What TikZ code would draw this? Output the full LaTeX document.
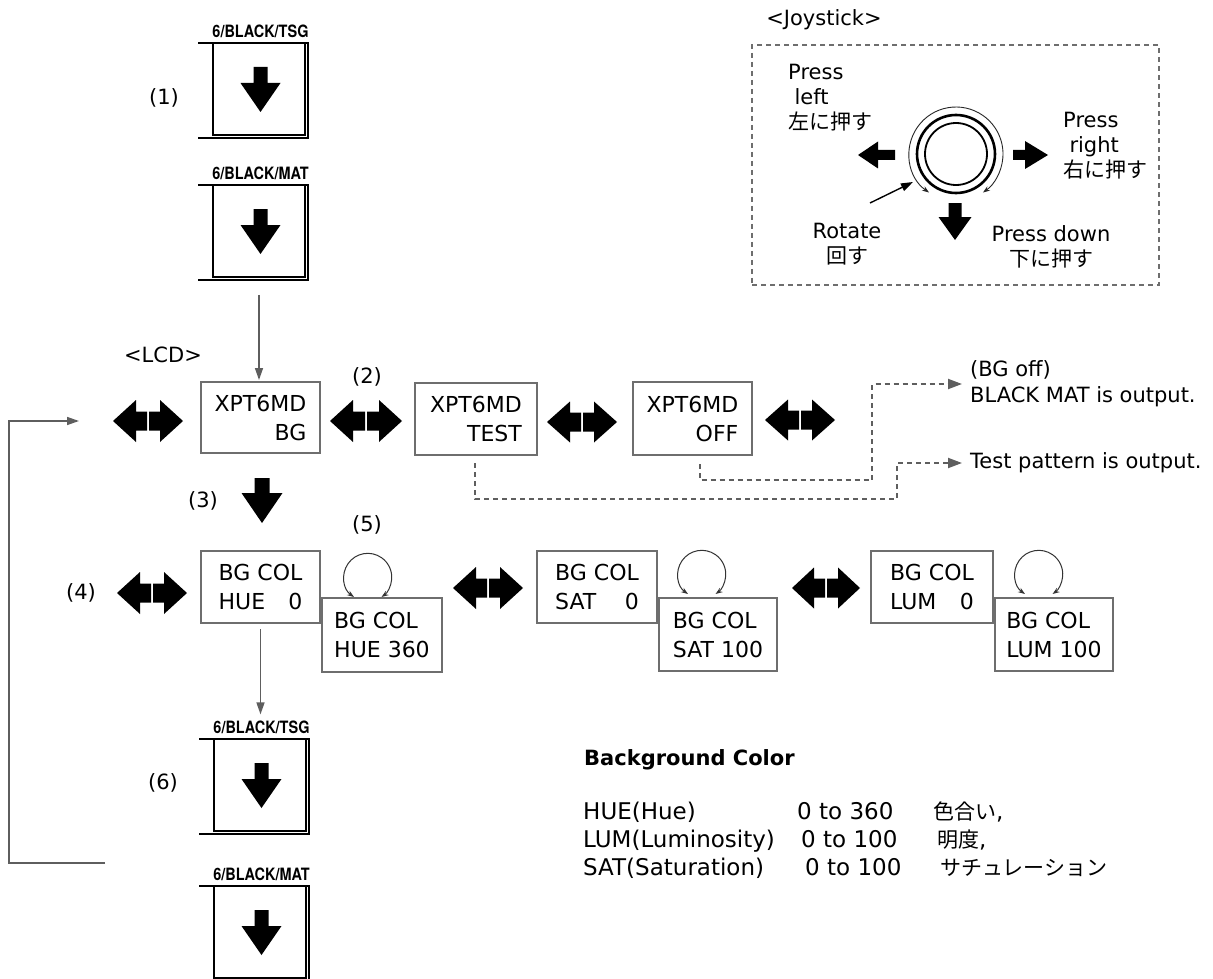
\documentclass[tikz,border=0pt]{standalone}
\usepackage{fontspec}
\setmainfont{DejaVu Sans}
\newfontfamily\jp{Noto Sans CJK JP}
\newfontfamily\condfont[FakeStretch=0.85]{TeX Gyre Heros}
\usetikzlibrary{arrows.meta,calc}
\definecolor{boxgray}{HTML}{6E6E6E}
\definecolor{linegray}{HTML}{5E5E5E}
\newcommand\fs[2]{\fontsize{#1}{#2}\selectfont}
\newlength\colw
\newcommand\spread[2]{\settowidth{\colw}{BG COL}\makebox[\colw][l]{#1\hfill #2}}
% x, y, angle, shaft width, shaft length, head width, head length
\newcommand\BigArrow[7]{%
  \begin{scope}[shift={(#1,#2)},rotate=#3]
    \fill[black] (0,{-#4/2}) -- (#5,{-#4/2}) -- (#5,{-#6/2}) -- ({#5+#7},0)
      -- (#5,{#6/2}) -- (#5,{#4/2}) -- (0,{#4/2}) -- cycle;
  \end{scope}}
% cx, cy, shaft length, head length, head width
\newcommand\Dbl[5]{%
  \BigArrow{#1-1}{#2}{180}{19}{#3}{#5}{#4}%
  \BigArrow{#1+1}{#2}{0}{19}{#3}{#5}{#4}}
% name, cx, top, label
\newcommand\Btn[4]{%
  \node[btnbox] (#1) at ({#2-1.5},{#3+46}) {};
  \node[btnlabel] (#1t) at (#2,{#3-12}) {#4};
  \draw[line width=1.6pt] ({#2-62.5},#3) -- ({#2+47.5},#3) -- ({#2+47.5},{#3+95}) -- ({#2-62.5},{#3+95});
  \BigArrow{#2}{#3+24}{-90}{14}{16}{40}{29}}
\tikzset{
  lcd/.style={draw=boxgray, line width=2pt, inner sep=0pt, fill=white, font=\fs{22}{29}},
  btnbox/.style={draw, line width=1.6pt, inner sep=0pt, minimum width=92pt, minimum height=92pt},
  btnlabel/.style={inner sep=0pt, font=\condfont\bfseries\fs{17}{17}},
  lbl/.style={inner sep=0pt, font=\fs{21}{25}},
  gcon/.style={draw=linegray, line width=1.5pt, -{Triangle[length=12pt,width=8pt]}},
  dcon/.style={draw=linegray, line width=2pt, dash pattern=on 5pt off 4pt, -{Triangle[length=14pt,width=10pt]}},
  loopar/.style={draw=black!80, line width=1pt, {Stealth[length=7pt,width=5pt]}-{Stealth[length=7pt,width=5pt]}},
}
\begin{document}
\begin{tikzpicture}[x=1pt,y=-1pt]
\useasboundingbox (0,0) rectangle (1213,979);
\fill[white] (0,0) rectangle (1213,979);

% ---------- buttons ----------
\Btn{b1}{260.5}{43}{6/BLACK/TSG}
\Btn{b2}{260.5}{185}{6/BLACK/MAT}
\Btn{b3}{261.5}{739}{6/BLACK/TSG}
\Btn{b4}{261.5}{886}{6/BLACK/MAT}
\node[lbl] (n1) at (164,98) {(1)};
\node[lbl] (n6) at (163,783) {(6)};

% ---------- joystick ----------
\node[lbl] (joyt) at (824,20) {<Joystick>};
\node[draw=boxgray, line width=2pt, dash pattern=on 5pt off 4pt, minimum width=407pt, minimum height=240pt, inner sep=0pt] (joy) at (955.5,165) {};
\node[circle, draw, line width=1.8pt, minimum size=62pt, inner sep=0pt] (knob) at (956,154) {};
\draw[line width=2.6pt] (knob.center) circle[radius=39];
\draw[line width=0.9pt, draw=black!85, {Stealth[length=7pt,width=5pt]}-{Stealth[length=7pt,width=5pt]}]
  ($(knob.center)+(125:47)$) arc[start angle=125, end angle=415, radius=47];
\coordinate (rotfrom) at (870,203);
\coordinate (rotto) at (913,182);
\draw[line width=1.4pt, -{Triangle[length=12pt,width=8pt]}] (rotfrom) -- (rotto);
\BigArrow{895}{155}{180}{10}{17}{27}{20}
\BigArrow{1013}{155}{0}{10}{12}{28}{23}
\BigArrow{955}{203}{-90}{13}{14}{33}{23}
\node[lbl, align=left, anchor=west] (jleft) at (788,98) {Press\\\hspace*{0.3em}left\\{\jp 左に押す}};
\node[lbl, align=left, anchor=west] (jright) at (1063,146) {Press\\\hspace*{0.3em}right\\{\jp 右に押す}};
\node[lbl, align=center] (jrot) at (847,244) {Rotate\\{\jp 回す}};
\node[lbl, align=center] (jdown) at (1051,247) {Press down\\{\jp 下に押す}};

% ---------- LCD row ----------
\node[lbl] (lcdt) at (163,355) {<LCD>};
\node[lcd, minimum width=119pt, minimum height=71pt, align=right] (bg) at (260.5,417.5) {XPT6MD\\BG};
\node[lcd, minimum width=122pt, minimum height=72pt, align=right] (test) at (476,419) {XPT6MD\\TEST};
\node[lcd, minimum width=119pt, minimum height=73pt, align=right] (off) at (692.5,418.5) {XPT6MD\\OFF};
\Dbl{148}{421}{11}{23}{42}
\Dbl{366}{421}{12}{23}{42}
\Dbl{582}{422}{11}{23}{41}
\Dbl{800}{420}{11}{23}{41}
\node[lbl] (n2) at (367,377) {(2)};
\draw[gcon, shorten <=17pt, shorten >=1pt] (b2.south) -- (b2.south |- bg.north);

% dashed outputs
\node[lbl, anchor=west, align=left, font=\fs{21}{26}] (offtxt) at (970,384) {(BG off)\\BLACK MAT is output.};
\node[lbl, anchor=west, font=\fs{21}{21}] (testtxt) at (970,463) {Test pattern is output.};
\draw[dcon, shorten >=8pt] ($(off.south)+(7,8)$) |- (872,480) |- (offtxt.west);
\draw[dcon, shorten >=8pt] ($(test.south)+(-1,7)$) |- (897,499) |- (testtxt.west);

% ---------- (3) ----------
\node[lbl] (n3) at (203,501) {(3)};
\BigArrow{262}{478}{-90}{15}{15}{41}{30}

% ---------- BG COL row ----------
\node[lbl] (n4) at (81,593) {(4)};
\node[lbl] (n5) at (367,525) {(5)};
\Dbl{152}{593}{11}{23}{42}
\Dbl{488}{588}{11}{23}{42}
\Dbl{826}{588}{11}{22}{41}
\node[lcd, minimum width=119pt, minimum height=72pt, align=left] (hue0) at (260.5,587) {BG COL\\\spread{HUE}{0}};
\node[lcd, minimum width=120pt, minimum height=74pt, align=left] (hue360) at (382,635) {BG COL\\HUE 360};
\node[lcd, minimum width=120pt, minimum height=72pt, align=left] (sat0) at (597,587) {BG COL\\\spread{SAT}{0}};
\node[lcd, minimum width=118pt, minimum height=73pt, align=left] (sat100) at (718,634.5) {BG COL\\SAT 100};
\node[lcd, minimum width=122pt, minimum height=72pt, align=left] (lum0) at (932,587) {BG COL\\\spread{LUM}{0}};
\node[lcd, minimum width=118pt, minimum height=73pt, align=left] (lum100) at (1054,634.5) {BG COL\\LUM 100};
\draw[loopar] (354,597) arc[start angle=125, end angle=415, radius=24];
\draw[loopar] (688,594) arc[start angle=125, end angle=415, radius=24];
\draw[loopar] (1025,594) arc[start angle=125, end angle=415, radius=24];
\draw[gcon, shorten <=5pt, shorten >=6pt] (hue0.south) -- (hue0.south |- b3t.north);

% ---------- feedback line ----------
\coordinate (fbA) at (105,863);
\coordinate (fbT) at (79,421);
\draw[gcon] (fbA) -- (9,863) -- (9,421) -- (fbT);

% ---------- background color table ----------
\node[inner sep=0pt, anchor=base west, font=\bfseries\fs{21}{21}] (bgc) at (584,765) {Background Color};
\begin{scope}[every node/.style={inner sep=0pt, anchor=base west, font=\fs{23}{23}}]
\node (h1) at (583,819) {HUE(Hue)};
\node (h2) at (797,819) {0 to 360};
\node (h3) at (933,819) {{\jp\fontsize{21}{21}\selectfont 色合い},};
\node (l1) at (583,847) {LUM(Luminosity)};
\node (l2) at (801,847) {0 to 100};
\node (l3) at (937,847) {{\jp\fontsize{21}{21}\selectfont 明度},};
\node (s1) at (583,875) {SAT(Saturation)};
\node (s2) at (805,875) {0 to 100};
\node (s3) at (940,875) {{\jp\fontsize{21}{21}\selectfont サチュレーション}};
\end{scope}
\end{tikzpicture}
\end{document}
